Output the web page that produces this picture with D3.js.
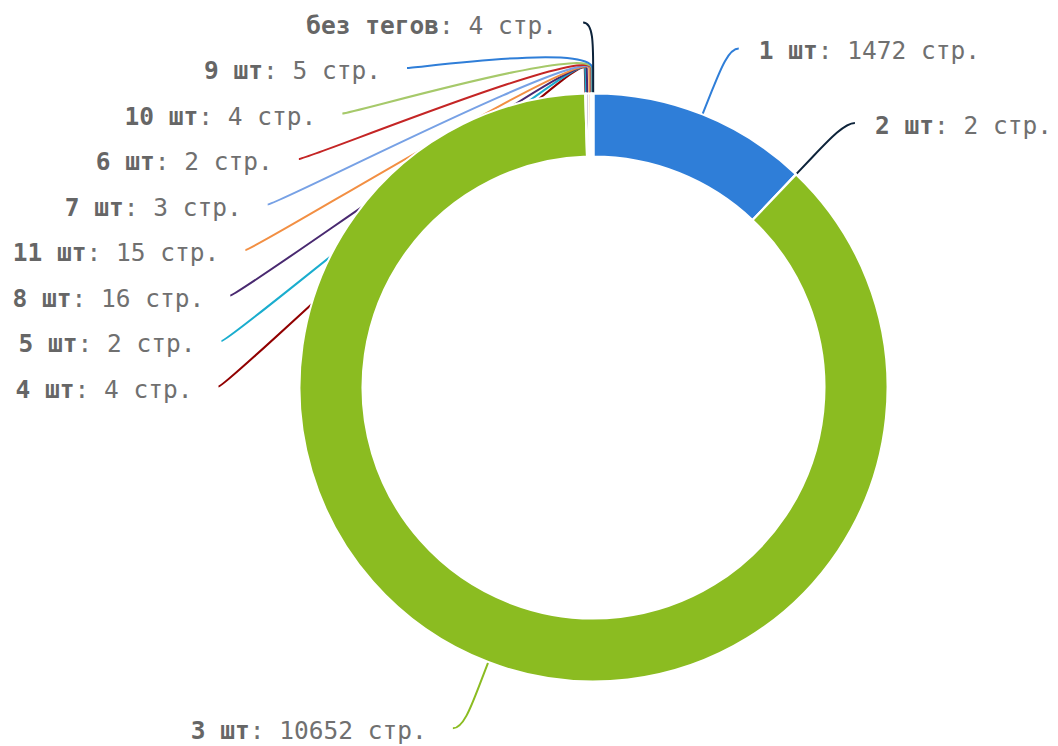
<!DOCTYPE html>
<html>
<head>
<meta charset="utf-8">
<script src="https://cdn.jsdelivr.net/npm/d3@7/dist/d3.min.js"></script>
<style>
  html, body { margin: 0; padding: 0; background: #fff; }
  svg { display: block; }
</style>
</head>
<body>
<svg id="chart" width="1058" height="746"></svg>
<script>
// ---- data ----
const categories = ["1 шт", "2 шт", "3 шт", "4 шт", "5 шт", "8 шт", "11 шт", "7 шт", "6 шт", "10 шт", "9 шт", "без тегов"];
const values = [1472, 2, 10652, 4, 2, 16, 15, 3, 2, 4, 5, 4];
const unitLabel = "стр.";
const palette = ["#2f7ed8", "#0d233a", "#8bbc21", "#910000", "#1aadce", "#492970", "#f28f43", "#77a1e5", "#c42525", "#a6c96a"];

// ---- layout ----
const W = 1058, H = 746;
const cx = 593.5, cy = 387.5;
const outerR = 294, innerR = 231;
const labelR = 365;        // radius where labels sit
const connOffset = 25;     // second break of connector, outside pie
const slotH = 45.5;        // vertical label spacing
const fontSize = 24.5;

const data = categories.map((c, i) => ({ name: c, value: values[i], color: palette[i % palette.length], idx: i }));

const svg = d3.select("#chart");
const g = svg.append("g");

const pie = d3.pie().sort(null).value(d => d.value).startAngle(0).endAngle(2 * Math.PI);
const arcs = pie(data);
const arc = d3.arc().innerRadius(innerR).outerRadius(outerR);

// compute label positions
arcs.forEach(a => {
  const mid = (a.startAngle + a.endAngle) / 2;
  a.mid = mid;
  a.half = Math.sin(mid) < 0 ? "left" : "right";
  a.naturalY = cy - Math.cos(mid) * labelR;
  a.edge = [cx + Math.sin(mid) * outerR, cy - Math.cos(mid) * outerR];
  a.brk = [cx + Math.sin(mid) * (outerR + connOffset), cy - Math.cos(mid) * (outerR + connOffset)];
});

function getX(y, half) {
  const dy = Math.max(-labelR, Math.min(labelR, y - cy));
  const dx = Math.cos(Math.asin(dy / labelR)) * labelR;
  return half === "left" ? cx - dx : cx + dx;
}

["left", "right"].forEach(half => {
  const list = arcs.filter(a => a.half === half).sort((a, b) => a.naturalY - b.naturalY);
  let prev = -Infinity;
  list.forEach((a, k) => {
    a.ly = Math.max(a.naturalY, prev + slotH);
    prev = a.ly;
    const useNatural = (k === 0 || k === list.length - 1);
    a.lx = getX(useNatural ? a.naturalY : a.ly, half);
  });
});

// ---- connectors (under the pie) ----
const conn = g.append("g");
arcs.forEach(a => {
  const dir = a.half === "left" ? -1 : 1;
  const sx = a.lx + dir * 10, sy = a.ly;
  const p = d3.path();
  p.moveTo(sx, sy);
  p.bezierCurveTo(a.lx, a.ly, 2 * a.brk[0] - a.edge[0], 2 * a.brk[1] - a.edge[1], a.brk[0], a.brk[1]);
  p.lineTo(a.edge[0], a.edge[1]);
  conn.append("path")
    .attr("d", p.toString())
    .attr("fill", "none")
    .attr("stroke", a.data.color)
    .attr("stroke-width", 2);
});

// ---- slices ----
g.append("g")
  .attr("transform", `translate(${cx},${cy})`)
  .selectAll("path")
  .data(arcs)
  .join("path")
  .attr("d", arc)
  .attr("fill", d => d.data.color)
  .attr("stroke", "#ffffff")
  .attr("stroke-width", 2)
  .attr("stroke-linejoin", "round");

// ---- labels ----
const labels = g.append("g")
  .attr("font-family", "'DejaVu Sans Mono', monospace")
  .attr("font-size", fontSize)
  .attr("fill", "#666666");
arcs.forEach(a => {
  const dir = a.half === "left" ? -1 : 1;
  const sx = a.lx + dir * 10;
  const t = labels.append("text")
    .attr("x", a.half === "left" ? sx - 26 : sx + 20)
    .attr("y", a.ly + 11)
    .attr("text-anchor", a.half === "left" ? "end" : "start");
  t.append("tspan").attr("font-weight", "bold").text(a.data.name);
  t.append("tspan").attr("fill", "#707070").text(`: ${a.data.value} ${unitLabel}`);
});
</script>
</body>
</html>
